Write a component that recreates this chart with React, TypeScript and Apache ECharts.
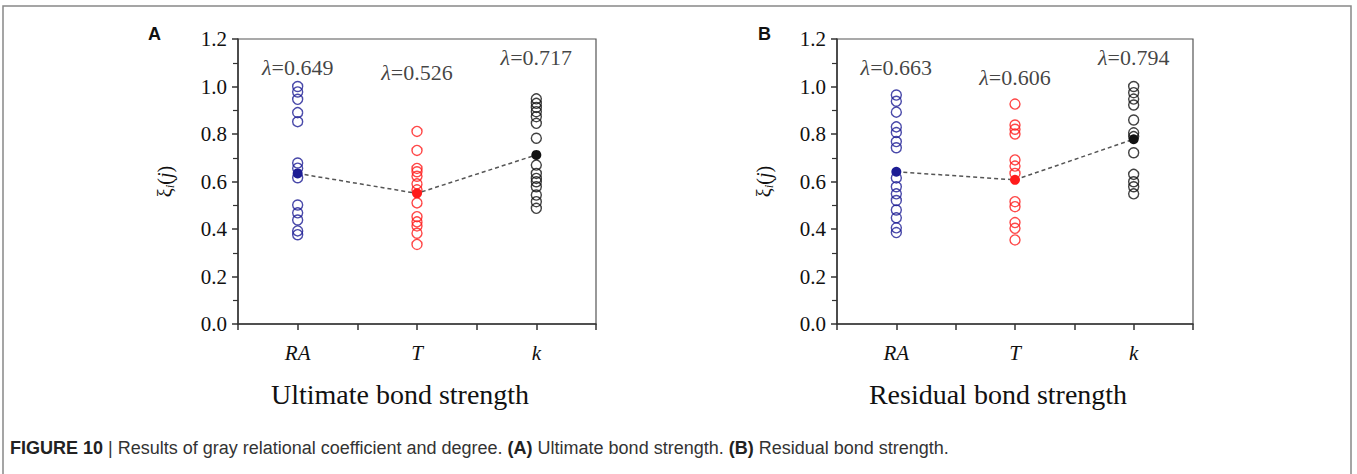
import React, { useEffect, useRef } from "react";
import * as echarts from "echarts";

const categories = ["RA", "T", "k"];
const tickLabels = ["0.0", "0.2", "0.4", "0.6", "0.8", "1.0", "1.2"];

// Panel A: ultimate bond strength (open circles = coefficients)
const ultRA = [1.0, 0.977, 0.946, 0.89, 0.852, 0.678, 0.656, 0.616, 0.501, 0.468, 0.438, 0.392, 0.376];
const ultT = [0.811, 0.731, 0.655, 0.641, 0.622, 0.59, 0.565, 0.51, 0.452, 0.43, 0.413, 0.382, 0.335];
const ultK = [0.948, 0.929, 0.912, 0.894, 0.873, 0.845, 0.782, 0.669, 0.634, 0.613, 0.599, 0.578, 0.543, 0.515, 0.487];
const ultMean = [0.634, 0.55, 0.712];
const ultLambda = ["0.649", "0.526", "0.717"];

// Panel B: residual bond strength
const resRA = [0.964, 0.938, 0.892, 0.83, 0.806, 0.768, 0.742, 0.615, 0.578, 0.548, 0.52, 0.48, 0.447, 0.405, 0.385];
const resT = [0.926, 0.838, 0.82, 0.8, 0.691, 0.665, 0.634, 0.515, 0.494, 0.427, 0.403, 0.354];
const resK = [1.0, 0.974, 0.947, 0.922, 0.859, 0.805, 0.789, 0.721, 0.63, 0.599, 0.578, 0.548];
const resMean = [0.641, 0.607, 0.778];
const resLambda = ["0.663", "0.606", "0.794"];

// label heights (in axis units) for the λ annotations
const ultLambdaY = [1.078, 1.057, 1.124];
const resLambdaY = [1.078, 1.04, 1.124];

const COLORS = ["#1c1c94", "#ff1a1a", "#111111"];
const SERIF = "'Liberation Serif', 'Times New Roman', serif";
const SANS = "'Liberation Sans', Arial, sans-serif";

function catX(i: number) {
  return i * 2 + 1;
}

function panelSeries(idx: number, groups: number[][], mean: number[], lambda: string[], lambdaY: number[]) {
  const out: any[] = [];
  groups.forEach((vals, gi) => {
    out.push({
      type: "scatter",
      xAxisIndex: idx,
      yAxisIndex: idx,
      symbol: "circle",
      symbolSize: 10,
      itemStyle: { color: "rgba(0,0,0,0)", borderColor: COLORS[gi], borderWidth: 1.4 },
      data: vals.map((v) => [catX(gi), v]),
      z: 2,
    });
  });
  out.push({
    type: "line",
    xAxisIndex: idx,
    yAxisIndex: idx,
    symbol: "circle",
    symbolSize: 10,
    lineStyle: { color: "#555", width: 1.5, type: [4, 3] },
    data: mean.map((v, i) => ({ value: [catX(i), v], itemStyle: { color: COLORS[i], borderWidth: 0 } })),
    z: 3,
  });
  out.push({
    type: "scatter",
    xAxisIndex: idx,
    yAxisIndex: idx,
    symbolSize: 0,
    silent: true,
    data: lambda.map((l, i) => ({ value: [catX(i), lambdaY[i]], name: l })),
    label: {
      show: true,
      position: "inside",
      formatter: (p: any) => "{l|λ}{n|=" + p.name + "}",
      rich: {
        l: { fontFamily: SERIF, fontSize: 22, fontStyle: "italic", color: "#111" },
        n: { fontFamily: SERIF, fontSize: 22, color: "#111" },
      },
    },
  });
  return out;
}

function xAxisOf(gridIndex: number) {
  return {
    type: "value",
    gridIndex,
    min: 0,
    max: 6,
    interval: 1,
    splitLine: { show: false },
    axisLine: { show: true, onZero: false, lineStyle: { color: "#333", width: 1.5 } },
    axisTick: { show: true, inside: false, length: 6, lineStyle: { color: "#333", width: 1.5 } },
    axisLabel: {
      margin: 18,
      fontFamily: SERIF,
      fontSize: 21,
      fontStyle: "italic",
      color: "#111",
      formatter: (v: number) => (v % 2 === 1 ? categories[(v - 1) / 2] : ""),
    },
  };
}

function yAxisOf(gridIndex: number) {
  return {
    type: "value",
    gridIndex,
    min: 0,
    max: 1.2,
    interval: 0.2,
    name: "{a|ξ}{s|i}{a|(}{j|j}{a|)}",
    nameLocation: "middle",
    nameRotate: 90,
    nameGap: 62,
    nameTextStyle: {
      rich: {
        a: { fontFamily: SERIF, fontSize: 20, color: "#111" },
        j: { fontFamily: SERIF, fontSize: 20, fontStyle: "italic", color: "#111" },
        s: { fontFamily: SERIF, fontSize: 13, fontStyle: "italic", color: "#111", padding: [10, 0, 0, 0] },
      },
    },
    splitLine: { show: false },
    axisLine: { show: true, onZero: false, lineStyle: { color: "#333", width: 1.5 } },
    axisTick: { show: true, inside: false, length: 6, lineStyle: { color: "#333", width: 1.5 } },
    minorTick: { show: true, splitNumber: 2, length: 5, lineStyle: { color: "#333", width: 1.2 } },
    axisLabel: {
      margin: 11,
      fontFamily: SERIF,
      fontSize: 21,
      color: "#111",
      formatter: (v: number) => tickLabels[Math.round(v / 0.2)] ?? "",
    },
  };
}

export default function App() {
  const ref = useRef<HTMLDivElement>(null);
  useEffect(() => {
    document.body.style.margin = "0";
    const chart = echarts.init(ref.current!, null, { renderer: "svg" });
    chart.setOption({
      animation: false,
      backgroundColor: "#fff",
      grid: [
        { left: 238, top: 39, width: 358, height: 285, show: true, borderColor: "#555", borderWidth: 1.2, backgroundColor: "transparent" },
        { left: 837, top: 39, width: 356, height: 285, show: true, borderColor: "#555", borderWidth: 1.2, backgroundColor: "transparent" },
      ],
      xAxis: [xAxisOf(0), xAxisOf(1)],
      yAxis: [yAxisOf(0), yAxisOf(1)],
      series: [
        ...panelSeries(0, [ultRA, ultT, ultK], ultMean, ultLambda, ultLambdaY),
        ...panelSeries(1, [resRA, resT, resK], resMean, resLambda, resLambdaY),
      ],
      graphic: [
        { type: "polyline", shape: { points: [[3, 480], [3, 6], [1351, 6], [1351, 480]] }, style: { stroke: "#888", lineWidth: 1.5, fill: "none" } },
        { type: "text", x: 148, y: 25, style: { text: "A", font: "bold 18px " + SANS, fill: "#111" } },
        { type: "text", x: 758, y: 25, style: { text: "B", font: "bold 18px " + SANS, fill: "#111" } },
        { type: "text", x: 400, y: 394, style: { text: "Ultimate bond strength", font: "28px " + SERIF, fill: "#111", align: "center", verticalAlign: "middle" } },
        { type: "text", x: 998, y: 394, style: { text: "Residual bond strength", font: "28px " + SERIF, fill: "#111", align: "center", verticalAlign: "middle" } },
        {
          type: "text",
          x: 10,
          y: 448,
          style: {
            text: "{b|FIGURE 10} | Results of gray relational coefficient and degree. {b|(A)} Ultimate bond strength. {b|(B)} Residual bond strength.",
            font: "18px " + SANS,
            fill: "#333",
            verticalAlign: "middle",
            rich: {
              b: { fontWeight: "bold", fontSize: 18, fontFamily: SANS, fill: "#222" },
            },
          },
        },
      ],
    });
    return () => chart.dispose();
  }, []);
  return <div ref={ref} style={{ width: 1357, height: 474 }} />;
}
